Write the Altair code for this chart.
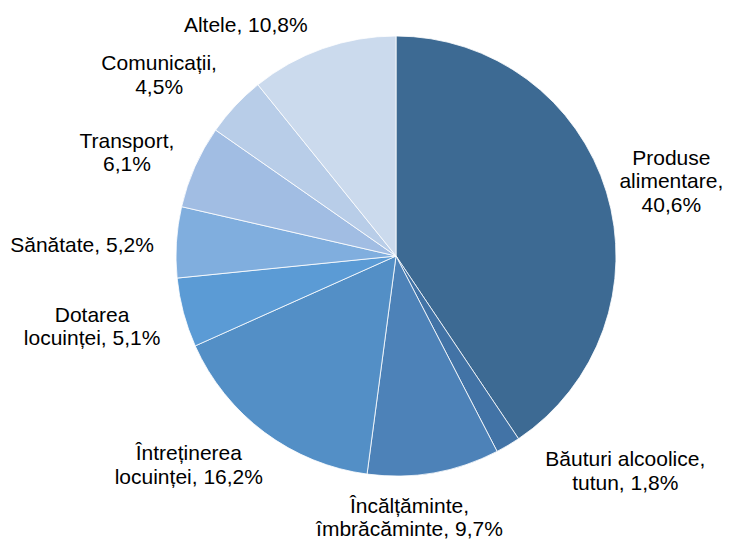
import math
import altair as alt
import pandas as pd

categories = [
    "Produse alimentare", "Băuturi alcoolice, tutun", "Încălțăminte, îmbrăcăminte",
    "Întreținerea locuinței", "Dotarea locuinței", "Sănătate", "Transport",
    "Comunicații", "Altele",
]
values = [40.6, 1.8, 9.7, 16.2, 5.1, 5.2, 6.1, 4.5, 10.8]
label_texts = [
    "Produse\nalimentare,\n40,6%",
    "Băuturi alcoolice,\ntutun, 1,8%",
    "Încălțăminte,\nîmbrăcăminte, 9,7%",
    "Întreținerea\nlocuinței, 16,2%",
    "Dotarea\nlocuinței, 5,1%",
    "Sănătate, 5,2%",
    "Transport,\n6,1%",
    "Comunicații,\n4,5%",
    "Altele, 10,8%",
]
colors = ["#3d6a93", "#4273a6", "#4d82b8", "#538fc6", "#5b9bd5",
          "#80aede", "#a1bde3", "#b8cde8", "#cbdaed"]

# label placement of first-line baseline (degrees clockwise from top, px from centre)
label_angle = [71.7, 132.5, 177.0, 225.4, 257.75, 270.7, 291.9, 308.1, 326.2]
label_dist = [290, 311, 257, 291, 311, 314, 290, 301, 270]

df = pd.DataFrame({
    "cat": categories,
    "val": values,
    "order": list(range(len(categories))),
    "label": label_texts,
    "la": [math.radians(a) for a in label_angle],
    "lr": label_dist,
})

CX, CY, R = 388, 248, 220

color_scale = alt.Scale(domain=categories, range=colors)

pie = alt.Chart(df).mark_arc(stroke="white", strokeWidth=0.8, outerRadius=R).encode(
    theta=alt.Theta("val:Q", stack=True),
    order=alt.Order("order:Q"),
    color=alt.Color("cat:N", scale=color_scale, legend=None),
    x=alt.value(CX),
    y=alt.value(CY),
)

labels = alt.Chart(df).mark_text(
    font="Liberation Sans", fontSize=21, lineBreak="\n", lineHeight=23.5,
    align="center", baseline="alphabetic", color="#000000",
).encode(
    theta=alt.Theta("la:Q", scale=None),
    radius=alt.Radius("lr:Q", scale=None),
    text="label:N",
    x=alt.value(CX),
    y=alt.value(CY),
)

chart = alt.layer(pie, labels).properties(
    width=715, height=532, padding=0, autosize=alt.AutoSizeParams(type="none"),
    background="white",
).configure_view(stroke=None)

chart.save("out.html", embed_options={"renderer": "svg", "actions": False})
